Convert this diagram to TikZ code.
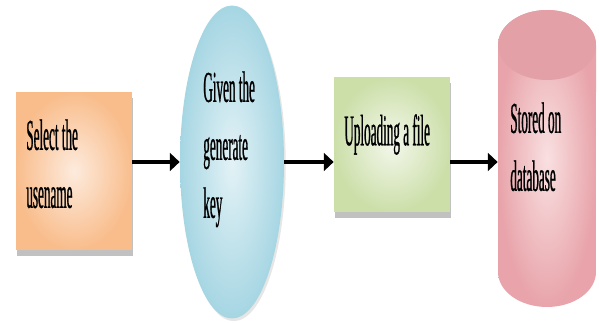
\documentclass[tikz,border=0pt]{standalone}
\usepackage{fontspec}
\setmainfont[FakeStretch=0.30, FakeBold=0.6]{Liberation Serif}
\usetikzlibrary{arrows.meta,shapes.geometric,shadows}

\definecolor{peach}{HTML}{F9BD8C}
\definecolor{peachlt}{HTML}{FDEBDD}
\definecolor{sky}{HTML}{A6D6E3}
\definecolor{skylt}{HTML}{E3F2F6}
\definecolor{leaf}{HTML}{CCDFA9}
\definecolor{leaflt}{HTML}{F3F7EB}
\definecolor{rose}{HTML}{E8A4AA}
\definecolor{roselt}{HTML}{F9E0E1}
\definecolor{rosecap}{HTML}{E3A0A6}

\begin{document}
\begin{tikzpicture}[x=0.02cm, y=0.02cm,
    lbl/.style ={font=\fontsize{25}{33}\selectfont, align=left, inner sep=0pt, anchor=north west},
    box/.style ={draw=none, inner sep=0pt, drop shadow={shadow xshift=0.5pt, shadow yshift=-3.5pt, opacity=0.35, fill=black!70}},
    arr/.style ={line width=2.2pt, -{Triangle[length=5.5pt, width=10pt]}},
  ]
  \useasboundingbox (0,0) rectangle (599,323);

  % select username
  \node[box, inner color=peachlt, outer color=peach, minimum width=2.32cm, minimum height=3.16cm] (sel) at (74,152) {};
  \node[lbl] at (26,204) {Select the\\usename};

  % key
  \node[ellipse, inner sep=0pt, inner color=skylt, outer color=sky, minimum width=2.08cm, minimum height=6.26cm,
        drop shadow={shadow xshift=1pt, shadow yshift=-1.5pt, opacity=0.2}] (key) at (232,161) {};
  \node[lbl] at (203,252) {Given the\\generate\\key};

  % upload
  \node[box, inner color=leaflt, outer color=leaf, minimum width=2.32cm, minimum height=2.7cm] (upl) at (392,178.5) {};
  \node[lbl] at (344,209) {Uploading a file};

  % database cylinder
  \shade[inner color=roselt, outer color=rose] (498,278) -- (498,51) arc[start angle=180, end angle=360, x radius=0.98cm, y radius=0.7cm]
    -- (596,278) arc[start angle=0, end angle=180, x radius=0.98cm, y radius=0.7cm] -- cycle;
  \fill[rosecap] (547,278) ellipse[x radius=0.98cm, y radius=0.7cm];
  \node[inner sep=0pt, minimum width=1.96cm, minimum height=5.94cm] (db) at (547,164.5) {};
  \node[lbl] at (510,221) {Stored on\\database};

  % flow
  \draw[arr] (sel.east |- key) -- (key.west);
  \draw[arr] (key.east) -- (upl.west |- key);
  \draw[arr] (upl.east |- key) -- (db.west |- key);
\end{tikzpicture}
\end{document}
